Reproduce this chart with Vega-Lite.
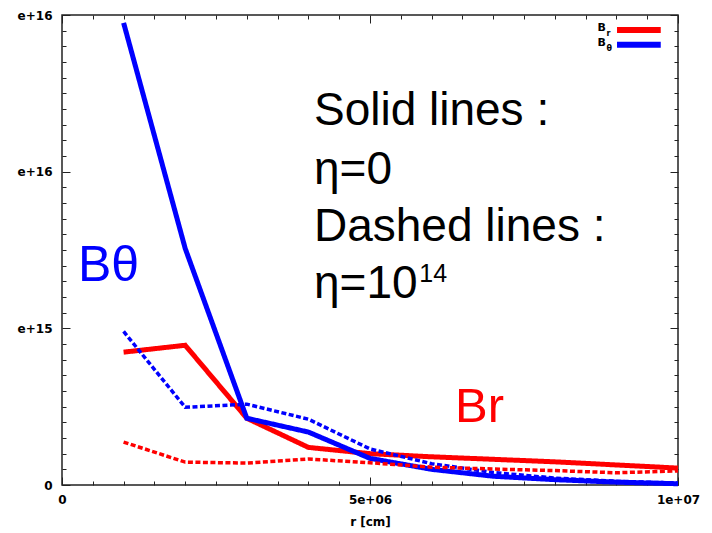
{
  "$schema": "https://vega.github.io/schema/vega-lite/v6.json",
  "width": 616,
  "height": 470,
  "autosize": {"type": "none"},
  "padding": {"left": 62, "top": 15, "right": 34, "bottom": 48},
  "background": "white",
  "view": {"stroke": "#222222", "strokeWidth": 1.5},
  "config": {
    "font": "Liberation Sans",
    "axis": {
      "labelFont": "DejaVu Sans",
      "labelFontWeight": "bold",
      "labelFontSize": 12,
      "labelColor": "black",
      "tickColor": "#222222",
      "tickWidth": 1,
      "grid": false,
      "domain": false,
      "titleFont": "DejaVu Sans",
      "titleFontWeight": "bold",
      "titleFontSize": 12,
      "titleColor": "black"
    }
  },
  "datasets": {
    "lines": [
      {"r": 1000000, "B": 4.24e15, "comp": "Br", "eta": "0"},
      {"r": 2000000, "B": 4.46e15, "comp": "Br", "eta": "0"},
      {"r": 3000000, "B": 2.13e15, "comp": "Br", "eta": "0"},
      {"r": 4000000, "B": 1.2e15, "comp": "Br", "eta": "0"},
      {"r": 5000000, "B": 1.0e15, "comp": "Br", "eta": "0"},
      {"r": 6000000, "B": 0.9e15, "comp": "Br", "eta": "0"},
      {"r": 7000000, "B": 0.82e15, "comp": "Br", "eta": "0"},
      {"r": 8000000, "B": 0.74e15, "comp": "Br", "eta": "0"},
      {"r": 9000000, "B": 0.64e15, "comp": "Br", "eta": "0"},
      {"r": 10000000, "B": 0.54e15, "comp": "Br", "eta": "0"},
      {"r": 1000000, "B": 14.75e15, "comp": "Btheta", "eta": "0"},
      {"r": 2000000, "B": 7.55e15, "comp": "Btheta", "eta": "0"},
      {"r": 3000000, "B": 2.13e15, "comp": "Btheta", "eta": "0"},
      {"r": 4000000, "B": 1.69e15, "comp": "Btheta", "eta": "0"},
      {"r": 5000000, "B": 0.85e15, "comp": "Btheta", "eta": "0"},
      {"r": 6000000, "B": 0.5e15, "comp": "Btheta", "eta": "0"},
      {"r": 7000000, "B": 0.28e15, "comp": "Btheta", "eta": "0"},
      {"r": 8000000, "B": 0.17e15, "comp": "Btheta", "eta": "0"},
      {"r": 9000000, "B": 0.09e15, "comp": "Btheta", "eta": "0"},
      {"r": 10000000, "B": 0.04e15, "comp": "Btheta", "eta": "0"},
      {"r": 1000000, "B": 4.9e15, "comp": "Btheta", "eta": "1e14"},
      {"r": 2000000, "B": 2.48e15, "comp": "Btheta", "eta": "1e14"},
      {"r": 3000000, "B": 2.58e15, "comp": "Btheta", "eta": "1e14"},
      {"r": 4000000, "B": 2.1e15, "comp": "Btheta", "eta": "1e14"},
      {"r": 5000000, "B": 1.15e15, "comp": "Btheta", "eta": "1e14"},
      {"r": 6000000, "B": 0.68e15, "comp": "Btheta", "eta": "1e14"},
      {"r": 7000000, "B": 0.4e15, "comp": "Btheta", "eta": "1e14"},
      {"r": 8000000, "B": 0.22e15, "comp": "Btheta", "eta": "1e14"},
      {"r": 9000000, "B": 0.12e15, "comp": "Btheta", "eta": "1e14"},
      {"r": 10000000, "B": 0.06e15, "comp": "Btheta", "eta": "1e14"},
      {"r": 1000000, "B": 1.37e15, "comp": "Br", "eta": "1e14"},
      {"r": 2000000, "B": 0.73e15, "comp": "Br", "eta": "1e14"},
      {"r": 3000000, "B": 0.7e15, "comp": "Br", "eta": "1e14"},
      {"r": 4000000, "B": 0.83e15, "comp": "Br", "eta": "1e14"},
      {"r": 5000000, "B": 0.71e15, "comp": "Br", "eta": "1e14"},
      {"r": 6000000, "B": 0.57e15, "comp": "Br", "eta": "1e14"},
      {"r": 7000000, "B": 0.51e15, "comp": "Br", "eta": "1e14"},
      {"r": 8000000, "B": 0.46e15, "comp": "Br", "eta": "1e14"},
      {"r": 9000000, "B": 0.39e15, "comp": "Br", "eta": "1e14"},
      {"r": 10000000, "B": 0.45e15, "comp": "Br", "eta": "1e14"}
    ],
    "big": [
      {"x": 4090000, "y": 1.15e16, "t": "Solid lines :", "c": "black", "s": 46},
      {"x": 4090000, "y": 9.62e15, "t": "η=0", "c": "black", "s": 46},
      {"x": 4090000, "y": 7.8e15, "t": "Dashed lines :", "c": "black", "s": 46},
      {"x": 4090000, "y": 5.96e15, "t": "η=10", "c": "black", "s": 46},
      {"x": 5800000, "y": 6.47e15, "t": "14", "c": "black", "s": 25},
      {"x": 260000, "y": 6.5e15, "t": "Bθ", "c": "blue", "s": 50},
      {"x": 6380000, "y": 2.0e15, "t": "Br", "c": "red", "s": 49}
    ],
    "legB": [
      {"x": 8830000, "y": 1.449e16, "t": "B"},
      {"x": 8830000, "y": 1.401e16, "t": "B"}
    ],
    "legSub": [
      {"x": 8840000, "y": 1.433e16, "t": "r"},
      {"x": 8840000, "y": 1.385e16, "t": "θ"}
    ],
    "legLine": [
      {"x": 9010000, "x2": 9720000, "y": 1.452e16, "comp": "Br"},
      {"x": 9010000, "x2": 9720000, "y": 1.405e16, "comp": "Btheta"}
    ]
  },
  "resolve": {"axis": {"x": "independent", "y": "independent"}},
  "layer": [
    {
      "data": {"name": "lines"},
      "mark": {"type": "line", "strokeJoin": "miter"},
      "encoding": {
        "x": {
          "field": "r", "type": "quantitative",
          "scale": {"domain": [0, 10000000], "nice": false, "zero": false},
          "axis": {
            "orient": "bottom",
            "values": [0, 500000, 1000000, 1500000, 2000000, 2500000, 3000000, 3500000, 4000000, 4500000, 5000000, 5500000, 6000000, 6500000, 7000000, 7500000, 8000000, 8500000, 9000000, 9500000, 10000000],
            "labelExpr": "datum.value == 0 ? '0' : (datum.value == 5000000 ? '5e+06' : (datum.value == 10000000 ? '1e+07' : ''))",
            "labelOverlap": false,
            "labelFlush": false,
            "tickSize": {"condition": {"test": "datum.value % 5000000 === 0", "value": -8}, "value": -4},
            "labelPadding": 17,
            "title": "r [cm]",
            "titlePadding": 7
          }
        },
        "y": {
          "field": "B", "type": "quantitative",
          "scale": {"domain": [0, 1.5e16], "nice": false, "zero": false},
          "axis": {
            "orient": "left",
            "values": [0, 5e14, 1e15, 1.5e15, 2e15, 2.5e15, 3e15, 3.5e15, 4e15, 4.5e15, 5e15, 5.5e15, 6e15, 6.5e15, 7e15, 7.5e15, 8e15, 8.5e15, 9e15, 9.5e15, 1e16, 1.05e16, 1.1e16, 1.15e16, 1.2e16, 1.25e16, 1.3e16, 1.35e16, 1.4e16, 1.45e16, 1.5e16],
            "labelExpr": "datum.value == 0 ? '0' : (datum.value == 5e15 ? 'e+15' : ((datum.value == 1e16 || datum.value == 1.5e16) ? 'e+16' : ''))",
            "labelOverlap": false,
            "labelFlush": false,
            "tickSize": {"condition": {"test": "datum.value % 5e15 === 0", "value": -8}, "value": -4},
            "labelPadding": 18,
            "title": null
          }
        },
        "color": {
          "field": "comp", "type": "nominal",
          "scale": {"domain": ["Br", "Btheta"], "range": ["#ff0000", "#0000ff"]},
          "legend": null
        },
        "strokeDash": {
          "field": "eta", "type": "nominal",
          "scale": {"domain": ["0", "1e14"], "range": [[1, 0], [5, 2.5]]},
          "legend": null
        },
        "strokeWidth": {
          "field": "eta", "type": "nominal",
          "scale": {"domain": ["0", "1e14"], "range": [5, 3.5]},
          "legend": null
        }
      }
    },
    {
      "data": {"name": "big"},
      "mark": {"type": "text", "align": "left", "baseline": "alphabetic", "font": "Liberation Sans"},
      "encoding": {
        "x": {
          "field": "x", "type": "quantitative",
          "scale": {"domain": [0, 10000000], "nice": false, "zero": false},
          "axis": {
            "orient": "top",
            "values": [0, 500000, 1000000, 1500000, 2000000, 2500000, 3000000, 3500000, 4000000, 4500000, 5000000, 5500000, 6000000, 6500000, 7000000, 7500000, 8000000, 8500000, 9000000, 9500000, 10000000],
            "labels": false,
            "tickSize": {"condition": {"test": "datum.value % 5000000 === 0", "value": -8}, "value": -4},
            "title": null
          }
        },
        "y": {
          "field": "y", "type": "quantitative",
          "scale": {"domain": [0, 1.5e16], "nice": false, "zero": false},
          "axis": {
            "orient": "right",
            "values": [0, 5e14, 1e15, 1.5e15, 2e15, 2.5e15, 3e15, 3.5e15, 4e15, 4.5e15, 5e15, 5.5e15, 6e15, 6.5e15, 7e15, 7.5e15, 8e15, 8.5e15, 9e15, 9.5e15, 1e16, 1.05e16, 1.1e16, 1.15e16, 1.2e16, 1.25e16, 1.3e16, 1.35e16, 1.4e16, 1.45e16, 1.5e16],
            "labels": false,
            "tickSize": {"condition": {"test": "datum.value % 5e15 === 0", "value": -8}, "value": -4},
            "title": null
          }
        },
        "text": {"field": "t"},
        "color": {"field": "c", "type": "nominal", "scale": null},
        "size": {"field": "s", "type": "quantitative", "scale": null}
      }
    },
    {
      "data": {"name": "legLine"},
      "mark": {"type": "rule", "strokeWidth": 6},
      "encoding": {
        "x": {"field": "x", "type": "quantitative", "scale": {"domain": [0, 10000000], "nice": false, "zero": false}, "axis": null},
        "x2": {"field": "x2"},
        "y": {"field": "y", "type": "quantitative", "scale": {"domain": [0, 1.5e16], "nice": false, "zero": false}, "axis": null},
        "color": {
          "field": "comp", "type": "nominal",
          "scale": {"domain": ["Br", "Btheta"], "range": ["#ff0000", "#0000ff"]},
          "legend": null
        }
      }
    },
    {
      "data": {"name": "legB"},
      "mark": {"type": "text", "align": "right", "baseline": "alphabetic", "font": "DejaVu Sans", "fontWeight": "bold", "fontSize": 11, "color": "black"},
      "encoding": {
        "x": {"field": "x", "type": "quantitative", "scale": {"domain": [0, 10000000], "nice": false, "zero": false}, "axis": null},
        "y": {"field": "y", "type": "quantitative", "scale": {"domain": [0, 1.5e16], "nice": false, "zero": false}, "axis": null},
        "text": {"field": "t"}
      }
    },
    {
      "data": {"name": "legSub"},
      "mark": {"type": "text", "align": "left", "baseline": "alphabetic", "font": "DejaVu Sans", "fontWeight": "bold", "fontSize": 8, "color": "black"},
      "encoding": {
        "x": {"field": "x", "type": "quantitative", "scale": {"domain": [0, 10000000], "nice": false, "zero": false}, "axis": null},
        "y": {"field": "y", "type": "quantitative", "scale": {"domain": [0, 1.5e16], "nice": false, "zero": false}, "axis": null},
        "text": {"field": "t"}
      }
    }
  ]
}
